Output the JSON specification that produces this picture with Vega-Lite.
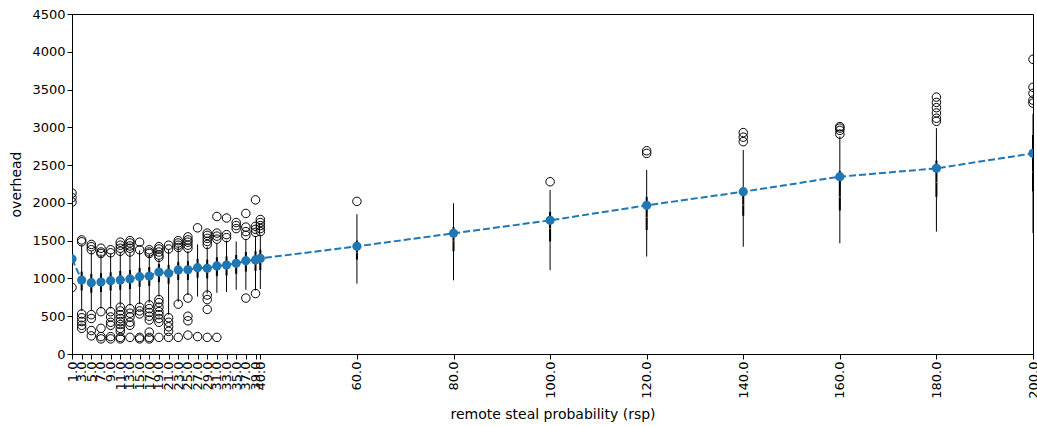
{
  "$schema": "https://vega.github.io/schema/vega-lite/v6.json",
  "width": 961,
  "height": 340,
  "autosize": {"type": "none"},
  "padding": {"left": 72, "top": 14, "right": 4, "bottom": 72},
  "background": "white",
  "config": {
    "font": "DejaVu Sans",
    "view": {"stroke": "black", "strokeWidth": 1},
    "axis": {
      "labelFont": "DejaVu Sans", "labelFontSize": 13, "labelColor": "black",
      "titleFont": "DejaVu Sans", "titleFontSize": 14, "titleFontWeight": "normal", "titleColor": "black",
      "domainColor": "black", "tickColor": "black", "tickSize": 5, "grid": false,
      "labelOverlap": false, "labelFlush": false, "labelBound": false
    },
    "axisY": {
      "values": [0,500,1000,1500,2000,2500,3000,3500,4000,4500],
      "format": "d", "titlePadding": 8
    }
  },
  "datasets": {
    "boxes": [
      {"rsp": 1, "lo": 930, "q1": 1120, "med": 1210, "q3": 1380, "hi": 1950, "mean": 1258},
      {"rsp": 3, "lo": 570, "q1": 840, "med": 930, "q3": 1090, "hi": 1440, "mean": 979},
      {"rsp": 5, "lo": 580, "q1": 810, "med": 900, "q3": 1060, "hi": 1360, "mean": 944},
      {"rsp": 7, "lo": 600, "q1": 820, "med": 910, "q3": 1070, "hi": 1320, "mean": 953},
      {"rsp": 9, "lo": 600, "q1": 840, "med": 930, "q3": 1080, "hi": 1330, "mean": 970},
      {"rsp": 11, "lo": 640, "q1": 850, "med": 940, "q3": 1100, "hi": 1350, "mean": 979},
      {"rsp": 13, "lo": 640, "q1": 860, "med": 950, "q3": 1110, "hi": 1340, "mean": 993},
      {"rsp": 15, "lo": 660, "q1": 890, "med": 980, "q3": 1140, "hi": 1370, "mean": 1023},
      {"rsp": 17, "lo": 680, "q1": 900, "med": 990, "q3": 1150, "hi": 1320, "mean": 1032},
      {"rsp": 19, "lo": 760, "q1": 950, "med": 1040, "q3": 1190, "hi": 1250, "mean": 1085},
      {"rsp": 21, "lo": 520, "q1": 930, "med": 1020, "q3": 1180, "hi": 1380, "mean": 1068},
      {"rsp": 23, "lo": 690, "q1": 980, "med": 1060, "q3": 1220, "hi": 1420, "mean": 1112},
      {"rsp": 25, "lo": 780, "q1": 980, "med": 1070, "q3": 1230, "hi": 1360, "mean": 1115},
      {"rsp": 27, "lo": 760, "q1": 1010, "med": 1100, "q3": 1260, "hi": 1450, "mean": 1142},
      {"rsp": 29, "lo": 800, "q1": 1000, "med": 1090, "q3": 1250, "hi": 1420, "mean": 1134},
      {"rsp": 31, "lo": 810, "q1": 1030, "med": 1120, "q3": 1280, "hi": 1460, "mean": 1165},
      {"rsp": 33, "lo": 820, "q1": 1040, "med": 1130, "q3": 1290, "hi": 1500, "mean": 1178},
      {"rsp": 35, "lo": 850, "q1": 1060, "med": 1150, "q3": 1310, "hi": 1490, "mean": 1200},
      {"rsp": 37, "lo": 850, "q1": 1090, "med": 1180, "q3": 1350, "hi": 1520, "mean": 1235},
      {"rsp": 39, "lo": 840, "q1": 1100, "med": 1190, "q3": 1360, "hi": 1560, "mean": 1245},
      {"rsp": 40, "lo": 860, "q1": 1110, "med": 1210, "q3": 1380, "hi": 1580, "mean": 1265},
      {"rsp": 60, "lo": 930, "q1": 1250, "med": 1340, "q3": 1500, "hi": 1850, "mean": 1425},
      {"rsp": 80, "lo": 975, "q1": 1360, "med": 1495, "q3": 1680, "hi": 1995, "mean": 1597},
      {"rsp": 100, "lo": 1110, "q1": 1490, "med": 1660, "q3": 1880, "hi": 2170, "mean": 1769},
      {"rsp": 120, "lo": 1290, "q1": 1640, "med": 1810, "q3": 2080, "hi": 2435, "mean": 1968},
      {"rsp": 140, "lo": 1420, "q1": 1830, "med": 1970, "q3": 2200, "hi": 2700, "mean": 2148},
      {"rsp": 160, "lo": 1465, "q1": 1900, "med": 2080, "q3": 2420, "hi": 2880, "mean": 2347},
      {"rsp": 180, "lo": 1620, "q1": 2080, "med": 2270, "q3": 2560, "hi": 2990, "mean": 2457},
      {"rsp": 200, "lo": 1600, "q1": 2150, "med": 2410, "q3": 2900, "hi": 3180, "mean": 2656}
    ],
    "outliers": [
      {"rsp": 1, "overhead": 2130}, {"rsp": 1, "overhead": 2070}, {"rsp": 1, "overhead": 2010}, {"rsp": 1, "overhead": 880},
      {"rsp": 3, "overhead": 1510}, {"rsp": 3, "overhead": 1485}, {"rsp": 3, "overhead": 530}, {"rsp": 3, "overhead": 480}, {"rsp": 3, "overhead": 430}, {"rsp": 3, "overhead": 380}, {"rsp": 3, "overhead": 340},
      {"rsp": 5, "overhead": 1450}, {"rsp": 5, "overhead": 1420}, {"rsp": 5, "overhead": 1380}, {"rsp": 5, "overhead": 520}, {"rsp": 5, "overhead": 470}, {"rsp": 5, "overhead": 310}, {"rsp": 5, "overhead": 240},
      {"rsp": 7, "overhead": 1400}, {"rsp": 7, "overhead": 1350}, {"rsp": 7, "overhead": 1330}, {"rsp": 7, "overhead": 560}, {"rsp": 7, "overhead": 340}, {"rsp": 7, "overhead": 230}, {"rsp": 7, "overhead": 200},
      {"rsp": 9, "overhead": 1380}, {"rsp": 9, "overhead": 1340}, {"rsp": 9, "overhead": 560}, {"rsp": 9, "overhead": 490}, {"rsp": 9, "overhead": 420}, {"rsp": 9, "overhead": 380}, {"rsp": 9, "overhead": 230}, {"rsp": 9, "overhead": 200},
      {"rsp": 11, "overhead": 1480}, {"rsp": 11, "overhead": 1440}, {"rsp": 11, "overhead": 1400}, {"rsp": 11, "overhead": 1360}, {"rsp": 11, "overhead": 620}, {"rsp": 11, "overhead": 570}, {"rsp": 11, "overhead": 520}, {"rsp": 11, "overhead": 470}, {"rsp": 11, "overhead": 430}, {"rsp": 11, "overhead": 390}, {"rsp": 11, "overhead": 340}, {"rsp": 11, "overhead": 300}, {"rsp": 11, "overhead": 220}, {"rsp": 11, "overhead": 200},
      {"rsp": 13, "overhead": 1500}, {"rsp": 13, "overhead": 1470}, {"rsp": 13, "overhead": 1430}, {"rsp": 13, "overhead": 1400}, {"rsp": 13, "overhead": 1350}, {"rsp": 13, "overhead": 600}, {"rsp": 13, "overhead": 540}, {"rsp": 13, "overhead": 490}, {"rsp": 13, "overhead": 420}, {"rsp": 13, "overhead": 380}, {"rsp": 13, "overhead": 220},
      {"rsp": 15, "overhead": 1480}, {"rsp": 15, "overhead": 1380}, {"rsp": 15, "overhead": 620}, {"rsp": 15, "overhead": 570}, {"rsp": 15, "overhead": 530}, {"rsp": 15, "overhead": 220}, {"rsp": 15, "overhead": 200},
      {"rsp": 17, "overhead": 1380}, {"rsp": 17, "overhead": 1350}, {"rsp": 17, "overhead": 1330}, {"rsp": 17, "overhead": 650}, {"rsp": 17, "overhead": 600}, {"rsp": 17, "overhead": 550}, {"rsp": 17, "overhead": 500}, {"rsp": 17, "overhead": 450}, {"rsp": 17, "overhead": 290}, {"rsp": 17, "overhead": 220}, {"rsp": 17, "overhead": 200},
      {"rsp": 19, "overhead": 1420}, {"rsp": 19, "overhead": 1390}, {"rsp": 19, "overhead": 1350}, {"rsp": 19, "overhead": 1310}, {"rsp": 19, "overhead": 1280}, {"rsp": 19, "overhead": 720}, {"rsp": 19, "overhead": 680}, {"rsp": 19, "overhead": 620}, {"rsp": 19, "overhead": 560}, {"rsp": 19, "overhead": 520}, {"rsp": 19, "overhead": 470}, {"rsp": 19, "overhead": 420}, {"rsp": 19, "overhead": 220},
      {"rsp": 21, "overhead": 1440}, {"rsp": 21, "overhead": 1390}, {"rsp": 21, "overhead": 480}, {"rsp": 21, "overhead": 420}, {"rsp": 21, "overhead": 360}, {"rsp": 21, "overhead": 300}, {"rsp": 21, "overhead": 220},
      {"rsp": 23, "overhead": 1500}, {"rsp": 23, "overhead": 1470}, {"rsp": 23, "overhead": 1440}, {"rsp": 23, "overhead": 1410}, {"rsp": 23, "overhead": 660}, {"rsp": 23, "overhead": 220},
      {"rsp": 25, "overhead": 1550}, {"rsp": 25, "overhead": 1510}, {"rsp": 25, "overhead": 1480}, {"rsp": 25, "overhead": 1440}, {"rsp": 25, "overhead": 1400}, {"rsp": 25, "overhead": 740}, {"rsp": 25, "overhead": 500}, {"rsp": 25, "overhead": 440}, {"rsp": 25, "overhead": 250},
      {"rsp": 27, "overhead": 1670}, {"rsp": 27, "overhead": 230},
      {"rsp": 29, "overhead": 1600}, {"rsp": 29, "overhead": 1570}, {"rsp": 29, "overhead": 1530}, {"rsp": 29, "overhead": 1490}, {"rsp": 29, "overhead": 1450}, {"rsp": 29, "overhead": 780}, {"rsp": 29, "overhead": 720}, {"rsp": 29, "overhead": 590}, {"rsp": 29, "overhead": 220},
      {"rsp": 31, "overhead": 1820}, {"rsp": 31, "overhead": 1600}, {"rsp": 31, "overhead": 1560}, {"rsp": 31, "overhead": 1520}, {"rsp": 31, "overhead": 220},
      {"rsp": 33, "overhead": 1800}, {"rsp": 33, "overhead": 1580}, {"rsp": 33, "overhead": 1540},
      {"rsp": 35, "overhead": 1740}, {"rsp": 35, "overhead": 1700}, {"rsp": 35, "overhead": 1660},
      {"rsp": 37, "overhead": 1860}, {"rsp": 37, "overhead": 1680}, {"rsp": 37, "overhead": 1620}, {"rsp": 37, "overhead": 1570}, {"rsp": 37, "overhead": 740},
      {"rsp": 39, "overhead": 2040}, {"rsp": 39, "overhead": 1690}, {"rsp": 39, "overhead": 1650}, {"rsp": 39, "overhead": 1610}, {"rsp": 39, "overhead": 800},
      {"rsp": 40, "overhead": 1780}, {"rsp": 40, "overhead": 1740}, {"rsp": 40, "overhead": 1700}, {"rsp": 40, "overhead": 1660}, {"rsp": 40, "overhead": 1620},
      {"rsp": 60, "overhead": 2020},
      {"rsp": 100, "overhead": 2280},
      {"rsp": 120, "overhead": 2690}, {"rsp": 120, "overhead": 2655},
      {"rsp": 140, "overhead": 2930}, {"rsp": 140, "overhead": 2870}, {"rsp": 140, "overhead": 2810},
      {"rsp": 160, "overhead": 3010}, {"rsp": 160, "overhead": 2990}, {"rsp": 160, "overhead": 2960}, {"rsp": 160, "overhead": 2910},
      {"rsp": 180, "overhead": 3400}, {"rsp": 180, "overhead": 3330}, {"rsp": 180, "overhead": 3260}, {"rsp": 180, "overhead": 3190}, {"rsp": 180, "overhead": 3120}, {"rsp": 180, "overhead": 3080},
      {"rsp": 200, "overhead": 3900}, {"rsp": 200, "overhead": 3530}, {"rsp": 200, "overhead": 3450}, {"rsp": 200, "overhead": 3360}, {"rsp": 200, "overhead": 3320}
    ]
  },
  "encoding": {
    "x": {
      "field": "rsp", "type": "quantitative",
      "title": "remote steal probability (rsp)",
      "scale": {"domain": [1, 200], "nice": false, "zero": false},
      "axis": {
        "values": [1,3,5,7,9,11,13,15,17,19,21,23,25,27,29,31,33,35,37,39,40,60,80,100,120,140,160,180,200],
        "format": ".1f", "labelAngle": -90, "titlePadding": 9
      }
    }
  },
  "layer": [
    {
      "data": {"name": "boxes"},
      "mark": {"type": "rule", "color": "black", "strokeWidth": 1, "clip": true},
      "encoding": {
        "y": {"field": "lo", "type": "quantitative", "title": "overhead",
              "scale": {"domain": [0, 4500], "nice": false}},
        "y2": {"field": "hi"}
      }
    },
    {
      "data": {"name": "boxes"},
      "mark": {"type": "rule", "color": "black", "strokeWidth": 2, "clip": true},
      "encoding": {
        "y": {"field": "q1", "type": "quantitative", "title": "overhead"},
        "y2": {"field": "q3"}
      }
    },
    {
      "data": {"name": "boxes"},
      "mark": {"type": "tick", "orient": "horizontal", "color": "#ff7f0e", "size": 2, "thickness": 1, "clip": true},
      "encoding": {
        "y": {"field": "med", "type": "quantitative", "title": "overhead"}
      }
    },
    {
      "data": {"name": "outliers"},
      "mark": {"type": "point", "shape": "circle", "filled": false, "stroke": "black", "strokeWidth": 1, "size": 72, "opacity": 1, "clip": true},
      "encoding": {
        "y": {"field": "overhead", "type": "quantitative", "title": "overhead"}
      }
    },
    {
      "data": {"name": "boxes"},
      "mark": {"type": "line", "color": "#1f77b4", "strokeWidth": 2, "strokeDash": [7, 3], "clip": true},
      "encoding": {
        "y": {"field": "mean", "type": "quantitative", "title": "overhead"}
      }
    },
    {
      "data": {"name": "boxes"},
      "mark": {"type": "circle", "color": "#1f77b4", "size": 85, "opacity": 1, "clip": true},
      "encoding": {
        "y": {"field": "mean", "type": "quantitative", "title": "overhead"}
      }
    }
  ]
}
